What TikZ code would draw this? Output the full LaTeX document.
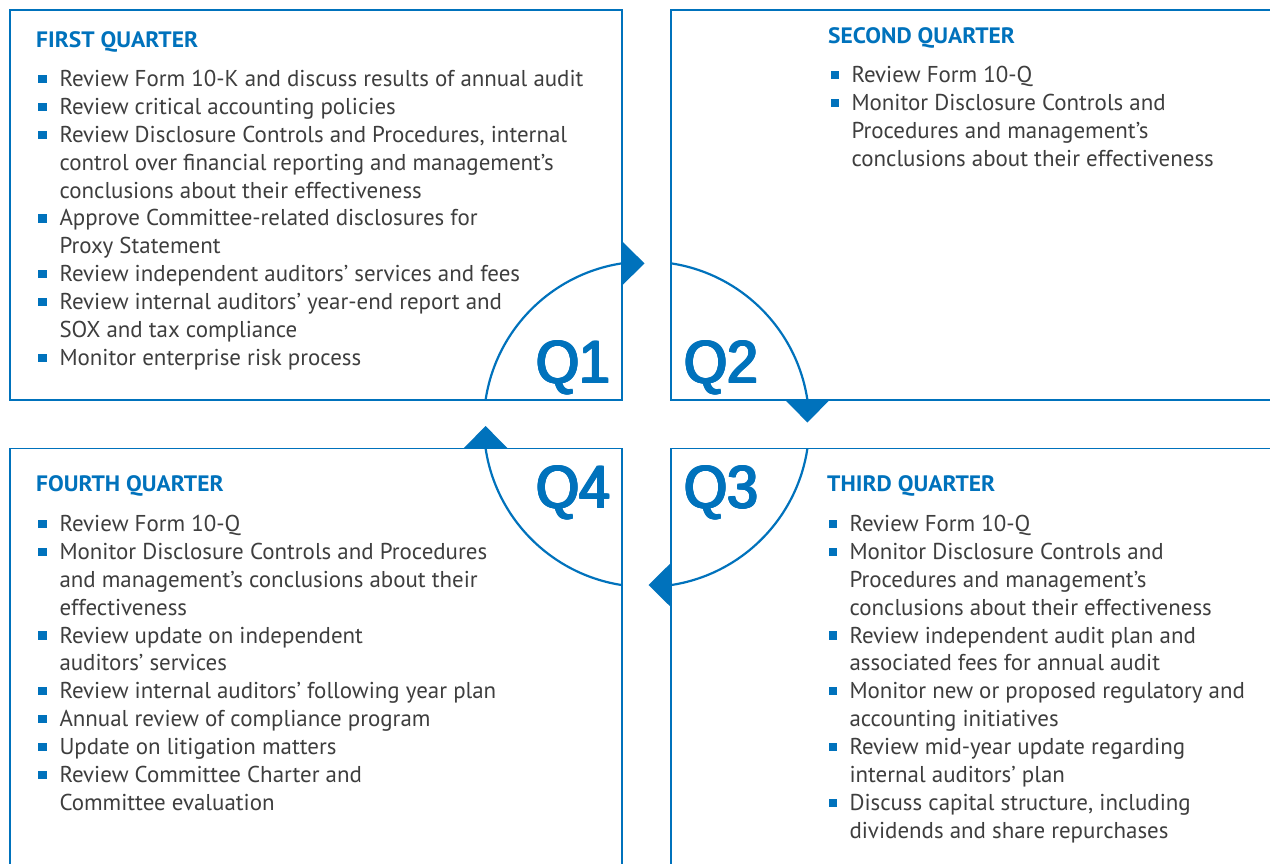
\documentclass[tikz,border=0pt]{standalone}
\usepackage{fontspec}
\setmainfont{PT Sans}
\newfontfamily\qlabelfamily{Liberation Sans}
\usepackage{graphicx}
\definecolor{qblue}{RGB}{0,114,188}
\definecolor{qtext}{RGB}{62,62,62}
\newcommand\bul{\llap{\textcolor{qblue}{\rule[3.4pt]{8.3pt}{8.3pt}}\hspace{12.7pt}}}
\newcommand\qcopy[3]{\rlap{\kern#1\raisebox{#2}{#3}}}
\newcommand\fatter[1]{\qcopy{0pt}{-0.6pt}{#1}\qcopy{0.8pt}{-0.6pt}{#1}\qcopy{1.6pt}{-0.6pt}{#1}%
\qcopy{0pt}{0pt}{#1}\qcopy{0.8pt}{0pt}{#1}\qcopy{1.6pt}{0pt}{#1}%
\qcopy{0pt}{0.6pt}{#1}\qcopy{0.8pt}{0.6pt}{#1}\qcopy{1.6pt}{0.6pt}{#1}\phantom{#1}\kern1.6pt}
\newlength\qwd
\newcommand\headfont{\fontsize{22.3pt}{24pt}\selectfont\bfseries}
\newcommand\bigqfont{\qlabelfamily\fontsize{60pt}{62pt}\selectfont}
\begin{document}
\settowidth\qwd{\fontsize{20pt}{24pt}\selectfont Review Form 10-K and discuss results of annual audit}%
\pgfmathsetmacro\bsz{20*524/\qwd}%
\settowidth\qwd{\headfont FIRST QUARTER}%
\pgfmathsetmacro\hx{162/\qwd}%
\settowidth\qwd{\bigqfont Q2}%
\pgfmathsetmacro\qx{74/\qwd}%
\begin{tikzpicture}[x=1pt,y=-1pt]
\tikzset{
  box/.style={draw=qblue,line width=1.2pt},
  ring/.style={draw=qblue,line width=2.2pt},
  tip/.style={fill=qblue},
  body/.style={anchor=base west,inner sep=0pt,text=qtext,font=\fontsize{\bsz pt}{\bsz pt}\selectfont},
  head/.style={anchor=base west,inner sep=0pt,text=qblue,font=\headfont},
  bigq/.style={anchor=base west,inner sep=0pt,text=qblue,font=\bigqfont},
}
\useasboundingbox[fill=white] (0,0) rectangle (1270,863);
% boxes
\draw[box] (10,10) rectangle (622,400);
\draw[box] (1280,400) -- (671,400) -- (671,10) -- (1280,10);
\draw[box] (10,875) -- (10,448.5) -- (622,448.5) -- (622,875);
\draw[box] (671,875) -- (671,448.5) -- (1280,448.5);
% ring
\begin{scope}
\clip (10,10) rectangle (622,400) (671,10) rectangle (1270,400)
      (10,448.5) rectangle (622,863) (671,448.5) rectangle (1270,863);
\draw[ring] (646.5,424.2) circle [radius=162.7pt];
\end{scope}
% arrowheads
\fill[tip] (622,241.2) -- (644.5,263.4) -- (622,285.6) -- cycle;
\fill[tip] (785.2,400) -- (807.4,422.5) -- (829.6,400) -- cycle;
\fill[tip] (671,562.8) -- (648.5,585) -- (671,607.2) -- cycle;
\fill[tip] (463.4,448.5) -- (485.6,426) -- (507.8,448.5) -- cycle;
% big labels
\node[bigq] (q1) at (535.3,383) {\scalebox{\qx}[1]{\fatter{Q1}}};
\node[bigq] (q2) at (683.3,383) {\scalebox{\qx}[1]{\fatter{Q2}}};
\node[bigq] (q3) at (683.3,508) {\scalebox{\qx}[1]{\fatter{Q3}}};
\node[bigq] (q4) at (535.3,508) {\scalebox{\qx}[1]{\fatter{Q4}}};
% headings
\node[head] (h1) at (36,47.3) {\scalebox{\hx}[1]{FIRST QUARTER}};
\node[head] (h2) at (828,43.3) {\scalebox{\hx}[1]{SECOND QUARTER}};
\node[head] (h3) at (827,491.7) {\scalebox{\hx}[1]{THIRD QUARTER}};
\node[head] (h4) at (36,491.7) {\scalebox{\hx}[1]{FOURTH QUARTER}};
% first quarter
\foreach \t [count=\i] in {
 {\bul Review Form 10-K and discuss results of annual audit},
 {\bul Review critical accounting policies},
 {\bul Review Disclosure Controls and Procedures, internal},
 {control over financial reporting and management’s},
 {conclusions about their effectiveness},
 {\bul Approve Committee-related disclosures for},
 {Proxy Statement},
 {\bul Review independent auditors’ services and fees},
 {\bul Review internal auditors’ year-end report and},
 {SOX and tax compliance},
 {\bul Monitor enterprise risk process}}
 \node[body] (a\i) at (59.3,{86.7+(\i-1)*27.85}) {\t};
% second quarter
\foreach \t [count=\i] in {
 {\bul Review Form 10-Q},
 {\bul Monitor Disclosure Controls and},
 {Procedures and management’s},
 {conclusions about their effectiveness}}
 \node[body] (b\i) at (851.3,{82.7+(\i-1)*27.85}) {\t};
% third quarter
\foreach \t [count=\i] in {
 {\bul Review Form 10-Q},
 {\bul Monitor Disclosure Controls and},
 {Procedures and management’s},
 {conclusions about their effectiveness},
 {\bul Review independent audit plan and},
 {associated fees for annual audit},
 {\bul Monitor new or proposed regulatory and},
 {accounting initiatives},
 {\bul Review mid-year update regarding},
 {internal auditors’ plan},
 {\bul Discuss capital structure, including},
 {dividends and share repurchases}}
 \node[body] (c\i) at (849.3,{531.7+(\i-1)*27.85}) {\t};
% fourth quarter
\foreach \t [count=\i] in {
 {\bul Review Form 10-Q},
 {\bul Monitor Disclosure Controls and Procedures},
 {and management’s conclusions about their},
 {effectiveness},
 {\bul Review update on independent},
 {auditors’ services},
 {\bul Review internal auditors’ following year plan},
 {\bul Annual review of compliance program},
 {\bul Update on litigation matters},
 {\bul Review Committee Charter and},
 {Committee evaluation}}
 \node[body] (d\i) at (59.3,{531.7+(\i-1)*27.85}) {\t};
\end{tikzpicture}
\end{document}
